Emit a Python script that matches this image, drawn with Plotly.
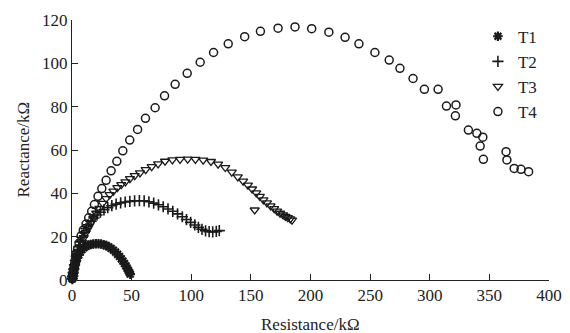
import plotly.graph_objects as go

# Impedance spectra (Nyquist plots) for four samples, values in kΩ
t1_x = [0.2, 0.5, 0.9, 1.4, 2.0, 2.7, 3.5, 4.5, 5.6, 6.9, 8.4, 10.0, 11.8, 13.7, 15.7,
        17.8, 20.0, 22.2, 24.4, 26.6, 28.7, 30.8, 32.8, 34.7, 36.5, 38.2, 39.8, 41.3,
        42.7, 44.0, 45.2, 46.3, 47.3, 48.1, 48.8]
t1_y = [0.5, 1.5, 2.8, 4.2, 5.7, 7.2, 8.7, 10.2, 11.6, 12.9, 14.0, 14.9, 15.6, 16.1, 16.4,
        16.6, 16.7, 16.7, 16.6, 16.3, 15.9, 15.3, 14.6, 13.8, 12.9, 11.9, 10.9, 9.8,
        8.7, 7.6, 6.5, 5.4, 4.4, 3.5, 2.7]

t2_x = [0.3, 0.6, 1.0, 1.5, 2.1, 2.8, 3.6, 4.6, 5.7, 7.0, 8.4, 10.0, 11.8, 13.8, 16.0,
        18.4, 21.0, 23.8, 26.8, 30.0, 33.4, 37.0, 40.8, 44.6, 48.5, 52.5, 56.5, 60.5,
        64.5, 68.5, 72.5, 76.5, 80.5, 84.5, 88.5, 92.5, 96.0, 99.5, 103.0, 106.0,
        109.0, 112.0, 115.0, 118.0, 121.0, 123.5]
t2_y = [0.6, 1.8, 3.3, 5.0, 7.0, 9.0, 11.0, 13.2, 15.4, 17.6, 19.7, 21.8, 23.7, 25.5, 27.1,
        28.6, 30.0, 31.3, 32.4, 33.4, 34.3, 35.0, 35.6, 36.0, 36.3, 36.5, 36.6, 36.5,
        36.1, 35.5, 34.7, 33.8, 32.8, 31.7, 30.5, 29.2, 27.9, 26.6, 25.4, 24.3,
        23.4, 22.7, 22.3, 22.2, 22.4, 22.8]

t3_x = [0.3, 0.6, 1.0, 1.5, 2.1, 2.8, 3.6, 4.5, 5.6, 6.9, 8.3, 9.9, 11.6, 13.5, 15.6,
        17.9, 20.3, 22.9, 25.7, 28.6, 31.6, 34.7, 38.0, 41.3, 44.8, 48.6, 52.6, 57.0,
        61.8, 66.8, 72.2, 78.0, 84.2, 90.6, 97.0, 103.5, 110.0, 116.5, 122.5, 128.5,
        134.0, 139.0, 143.5, 147.5, 151.0, 154.5, 157.5, 160.5, 163.5, 166.5, 169.5,
        172.0, 174.5, 177.0, 179.0, 181.0, 183.0, 184.5, 153.2]
t3_y = [0.5, 1.5, 2.8, 4.2, 5.8, 7.5, 9.3, 11.2, 13.2, 15.3, 17.5, 19.6, 21.8, 24.0, 26.3,
        28.5, 30.8, 33.0, 35.4, 37.6, 39.4, 41.0, 42.6, 44.0, 45.3, 46.8, 48.2, 49.4,
        50.9, 52.3, 53.6, 54.8, 55.4, 55.7, 55.8, 55.7, 55.3, 54.7, 53.5, 51.9,
        49.8, 47.6, 45.6, 43.8, 42.0, 40.2, 38.6, 37.0, 35.6, 34.2, 32.9,
        31.8, 30.8, 30.0, 29.3, 28.8, 28.2, 27.6, 32.3]

t4_x = [0.3, 0.6, 1.0, 1.5, 2.1, 2.8, 3.6, 4.6, 5.9, 7.6, 9.5, 11.8, 14.0, 16.5, 18.8,
        21.8, 25.0, 28.6, 32.8, 37.6, 42.6, 48.4, 55.0, 61.6, 69.7, 77.6, 86.5, 96.6,
        107.5, 118.7, 131.0, 144.8, 158.0, 172.8, 187.0, 201.0, 215.4, 229.0, 240.6,
        254.0, 266.0, 275.0, 286.0, 295.5, 307.0, 314.0, 322.0, 321.5, 332.4, 339.5,
        344.5, 342.3, 345.0, 364.0, 364.7, 370.8, 376.5, 382.9]
t4_y = [0.6, 1.8, 3.4, 5.2, 7.2, 9.4, 11.7, 14.2, 17.0, 20.4, 23.0, 25.8, 28.7, 31.7, 34.8,
        38.6, 42.2, 46.0, 50.4, 54.8, 59.6, 64.6, 69.5, 74.6, 79.5, 85.0, 90.3, 95.4,
        100.5, 105.0, 109.0, 112.3, 114.8, 116.2, 116.8, 116.0, 114.4, 112.0, 109.0,
        105.0, 101.5, 97.7, 93.0, 88.0, 88.0, 80.3, 80.8, 75.8, 69.2, 67.7,
        65.9, 61.8, 55.7, 59.2, 55.4, 51.5, 51.1, 50.0]

x_ticks = [0, 50, 100, 150, 200, 250, 300, 350, 400]
y_ticks = [0, 20, 40, 60, 80, 100, 120]

series = [
    ("T1", t1_x, t1_y, "asterisk-open", 8, 2.2),
    ("T2", t2_x, t2_y, "cross-thin-open", 8, 1.6),
    ("T3", t3_x, t3_y, "triangle-down-open", 8, 1.3),
    ("T4", t4_x, t4_y, "circle-open", 8, 1.5),
]

ink = "#1a1a1a"
font_family = "Liberation Serif, Times New Roman, serif"
title_font = dict(family=font_family, size=17, color="#222")

fig = go.Figure()
for name, xs, ys, symbol, size, lw in series:
    fig.add_trace(go.Scatter(
        x=xs, y=ys, mode="markers", name=name, cliponaxis=False,
        marker=dict(symbol=symbol, size=size, color=ink,
                    line=dict(color=ink, width=lw)),
    ))

axis_common = dict(
    showline=True, linecolor="#222", linewidth=1, mirror=False,
    showgrid=False, zeroline=False, ticks="inside", ticklen=6,
    tickcolor="#222", tickwidth=1, automargin=False,
    tickfont=dict(family=font_family, size=17, color="#222"),
)

fig.update_layout(
    width=570, height=333,
    margin=dict(l=72, r=21, t=20, b=53),
    paper_bgcolor="white", plot_bgcolor="white",
    font=dict(family=font_family, size=17, color="#222"),
    showlegend=True,
    legend=dict(x=0.851, y=1.005, xanchor="left", yanchor="top",
                bgcolor="rgba(0,0,0,0)", font=dict(size=17),
                itemwidth=30, tracegroupgap=0),
    xaxis=dict(range=[0, 400], tickvals=x_ticks, **axis_common),
    yaxis=dict(range=[0, 120], tickvals=y_ticks, **axis_common),
    annotations=[
        dict(text="Resistance/kΩ", xref="paper", yref="paper", x=0.5, y=0,
             xanchor="center", yanchor="top", yshift=-33, showarrow=False,
             font=title_font),
        dict(text="Reactance/kΩ", xref="paper", yref="paper", x=0, y=0.5,
             xanchor="right", yanchor="middle", xshift=-38, textangle=-90,
             showarrow=False, font=title_font),
    ],
)

fig.write_html("out.html")
